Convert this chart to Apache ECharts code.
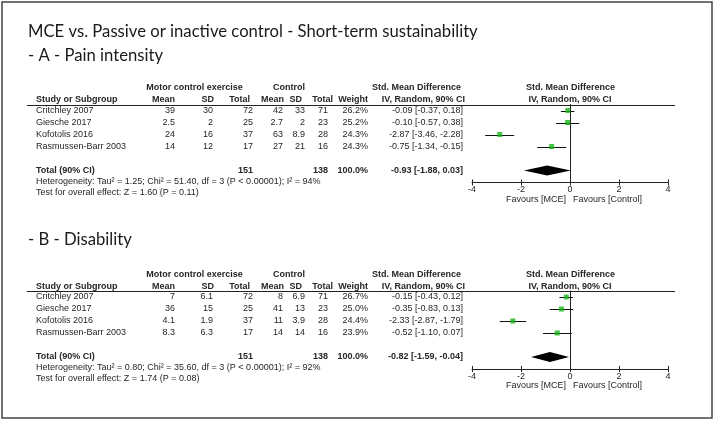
<!DOCTYPE html>
<html><head><meta charset="utf-8">
<script src="https://cdn.jsdelivr.net/npm/echarts@6/dist/echarts.min.js"></script>
<style>html,body{margin:0;padding:0;background:#fff}#c{width:716px;height:423px}</style>
</head><body><div id="c"></div>
<script>
// ---------------- DATA ----------------
const mainTitle = 'MCE vs. Passive or inactive control - Short-term sustainability';
const studies = ['Critchley 2007', 'Giesche 2017', 'Kofotolis 2016', 'Rasmussen-Barr 2003'];
const studyRows = [0, 1, 2, 3];
const totalRow = 5;
const xTicks = [-4, -2, 0, 2, 4];

// A - Pain intensity
const titleA = '- A - Pain intensity';
const mceMeanA = ['39', '2.5', '24', '14'];
const mceSdA = ['30', '2', '16', '12'];
const mceNA = [72, 25, 37, 17];
const ctlMeanA = ['42', '2.7', '63', '27'];
const ctlSdA = ['33', '2', '8.9', '21'];
const ctlNA = [71, 23, 28, 16];
const weightA = ['26.2%', '25.2%', '24.3%', '24.3%'];
const smdA = [-0.09, -0.10, -2.87, -0.75];
const loA = [-0.37, -0.57, -3.46, -1.34];
const hiA = [0.18, 0.38, -2.28, -0.15];
const totalA = { mceN: 151, ctlN: 138, weight: '100.0%', est: -0.93, lo: -1.88, hi: 0.03 };
const hetA = 'Heterogeneity: Tau\u00b2 = 1.25; Chi\u00b2 = 51.40, df = 3 (P < 0.00001); I\u00b2 = 94%';
const testA = 'Test for overall effect: Z = 1.60 (P = 0.11)';

// B - Disability
const titleB = '- B - Disability';
const mceMeanB = ['7', '36', '4.1', '8.3'];
const mceSdB = ['6.1', '15', '1.9', '6.3'];
const mceNB = [72, 25, 37, 17];
const ctlMeanB = ['8', '41', '11', '14'];
const ctlSdB = ['6.9', '13', '3.9', '14'];
const ctlNB = [71, 23, 28, 16];
const weightB = ['26.7%', '25.0%', '24.4%', '23.9%'];
const smdB = [-0.15, -0.35, -2.33, -0.52];
const loB = [-0.43, -0.83, -2.87, -1.10];
const hiB = [0.12, 0.13, -1.79, 0.07];
const totalB = { mceN: 151, ctlN: 138, weight: '100.0%', est: -0.82, lo: -1.59, hi: -0.04 };
const hetB = 'Heterogeneity: Tau\u00b2 = 0.80; Chi\u00b2 = 35.60, df = 3 (P < 0.00001); I\u00b2 = 92%';
const testB = 'Test for overall effect: Z = 1.74 (P = 0.08)';

// ---------------- LAYOUT ----------------
const FONT = '"Liberation Sans", Arial, sans-serif';
const TFONT = 'Lato, "Open Sans", sans-serif';
const TXT = '#262626';
const panels = [
  { title: titleA, titleY: 56, dy: 0, mceMean: mceMeanA, mceSd: mceSdA, mceN: mceNA, ctlMean: ctlMeanA, ctlSd: ctlSdA, ctlN: ctlNA,
    weight: weightA, smd: smdA, lo: loA, hi: hiA, total: totalA, het: hetA, test: testA, hetY: 182, testY: 193, grid: { top: 104.5 } },
  { title: titleB, titleY: 240, dy: 186.5, mceMean: mceMeanB, mceSd: mceSdB, mceN: mceNB, ctlMean: ctlMeanB, ctlSd: ctlSdB, ctlN: ctlNB,
    weight: weightB, smd: smdB, lo: loB, hi: hiB, total: totalB, het: hetB, test: testB, hetY: 367.5, testY: 378.5, grid: { top: 291 } }
];

function fitSize(text, family, weight, target) {
  const ctx = document.createElement('canvas').getContext('2d');
  ctx.font = weight + ' 100px ' + family;
  return 100 * target / ctx.measureText(text).width;
}
const titleSize = fitSize(mainTitle, TFONT, 'normal', 450);

const fmt = (v) => v.toFixed(2);
const ciText = (e, l, h) => fmt(e) + ' [' + fmt(l) + ', ' + fmt(h) + ']';

const chart = echarts.init(document.getElementById('c'), null, { renderer: 'canvas', width: 716, height: 423 });

const grid = panels.map(p => ({ left: 472, width: 196, top: p.grid.top, height: 78 }));
const xAxis = [];
panels.forEach((p, i) => {
  xAxis.push({ gridIndex: i, type: 'value', min: -4, max: 4, interval: 2, position: 'bottom',
    axisLine: { show: true, onZero: false, lineStyle: { color: '#222', width: 1 } },
    axisTick: { show: true, inside: false, length: 3, lineStyle: { color: '#222' } },
    axisLabel: { show: true, margin: 3, fontSize: 9, fontFamily: FONT, color: TXT,
      formatter: v => xTicks.indexOf(v) >= 0 ? String(v) : '' },
    splitLine: { show: false } });
  xAxis.push({ gridIndex: i, type: 'value', min: -4, max: 4, interval: 2, position: 'bottom',
    axisLine: { show: false, onZero: false },
    axisTick: { show: true, inside: true, length: 3, lineStyle: { color: '#222' } },
    axisLabel: { show: false }, splitLine: { show: false } });
});
const yAxis = panels.map((p, i) => ({ gridIndex: i, type: 'value', min: -0.5, max: 6, inverse: true,
  axisLine: { show: true, onZero: true, onZeroAxisIndex: i * 2, lineStyle: { color: '#222' } },
  axisTick: { show: false }, axisLabel: { show: false }, splitLine: { show: false } }));

const series = [];
panels.forEach((p, i) => {
  series.push({ type: 'custom', xAxisIndex: i * 2, yAxisIndex: i, silent: true, z: 3,
    encode: { x: [0, 1], y: 2 },
    data: studyRows.map((r, k) => [p.lo[k], p.hi[k], r]),
    renderItem: (params, api) => {
      const a = api.coord([api.value(0), api.value(2)]);
      const b = api.coord([api.value(1), api.value(2)]);
      const y = Math.round(a[1]) + 0.5;
      return { type: 'line', shape: { x1: a[0], y1: y, x2: b[0], y2: y }, style: { stroke: '#111', lineWidth: 1 } };
    } });
  series.push({ type: 'scatter', xAxisIndex: i * 2, yAxisIndex: i, silent: true, z: 4,
    symbol: 'rect', symbolSize: 5, itemStyle: { color: '#19b419' },
    data: studyRows.map((r, k) => [p.smd[k], r]) });
  series.push({ type: 'custom', xAxisIndex: i * 2, yAxisIndex: i, silent: true, z: 4,
    encode: { x: [0, 1, 3], y: 2 },
    data: [[p.total.lo, p.total.hi, totalRow, p.total.est]],
    renderItem: (params, api) => {
      const l = api.coord([api.value(0), api.value(2)]);
      const r = api.coord([api.value(1), api.value(2)]);
      const c = api.coord([api.value(3), api.value(2)]);
      return { type: 'polygon', shape: { points: [[l[0], c[1]], [c[0], c[1] - 5], [r[0], c[1]], [c[0], c[1] + 5]] },
        style: { fill: '#000' } };
    } });
});

chart.setOption({ backgroundColor: '#fff', animation: false, grid, xAxis, yAxis, series });

// ---------------- TEXT TABLE ----------------
const g = [];
function txt(text, x, y, align, opts) {
  opts = opts || {};
  g.push({ type: 'text', x: x, y: y, silent: true, z: 10,
    style: { text: text, textAlign: align || 'left', textVerticalAlign: 'middle',
      font: (opts.bold ? 'bold ' : '') + (opts.size || 9) + 'px ' + (opts.family || FONT),
      fill: opts.color || TXT } });
}
// frame
g.push({ type: 'rect', shape: { x: 2, y: 2, width: 710, height: 416 }, style: { fill: 'none', stroke: '#444', lineWidth: 1.5 }, silent: true });
txt(mainTitle, 28, 32, 'left', { size: titleSize, family: TFONT, color: '#1a1a1a' });

panels.forEach((p, i) => {
  const rowY = r => chart.convertToPixel({ xAxisIndex: i * 2, yAxisIndex: i }, [0, r])[1];
  const d = p.dy;
  txt(p.title, 28, p.titleY, 'left', { size: titleSize, family: TFONT, color: '#1a1a1a' });
  // header row 1
  txt('Motor control exercise', 194.5, 88 + d, 'center', { bold: true });
  txt('Control', 289, 88 + d, 'center', { bold: true });
  txt('Std. Mean Difference', 461, 88 + d, 'right', { bold: true });
  txt('Std. Mean Difference', 570.5, 88 + d, 'center', { bold: true });
  // header row 2
  const h2 = 100 + d;
  txt('Study or Subgroup', 36, h2, 'left', { bold: true });
  txt('Mean', 175, h2, 'right', { bold: true });
  txt('SD', 214, h2, 'right', { bold: true });
  txt('Total', 250, h2, 'right', { bold: true });
  txt('Mean', 284, h2, 'right', { bold: true });
  txt('SD', 302, h2, 'right', { bold: true });
  txt('Total', 333, h2, 'right', { bold: true });
  txt('Weight', 368, h2, 'right', { bold: true });
  txt('IV, Random, 90% CI', 465, h2, 'right', { bold: true });
  txt('IV, Random, 90% CI', 570, h2, 'center', { bold: true });
  // underline
  const ly = Math.round(p.grid.top) + 0.5;
  g.push({ type: 'line', shape: { x1: 27, y1: ly, x2: 675, y2: ly }, style: { stroke: '#222', lineWidth: 1 }, silent: true });
  // study rows
  studyRows.forEach((r, k) => {
    const y = rowY(r);
    txt(studies[k], 36, y, 'left');
    txt(p.mceMean[k], 175, y, 'right');
    txt(p.mceSd[k], 213, y, 'right');
    txt(String(p.mceN[k]), 253, y, 'right');
    txt(p.ctlMean[k], 283, y, 'right');
    txt(p.ctlSd[k], 305, y, 'right');
    txt(String(p.ctlN[k]), 328, y, 'right');
    txt(p.weight[k], 368, y, 'right');
    txt(ciText(p.smd[k], p.lo[k], p.hi[k]), 463, y, 'right');
  });
  const ty = rowY(totalRow);
  txt('Total (90% CI)', 36, ty, 'left', { bold: true });
  txt(String(p.total.mceN), 253, ty, 'right', { bold: true });
  txt(String(p.total.ctlN), 328, ty, 'right', { bold: true });
  txt(p.total.weight, 368, ty, 'right', { bold: true });
  txt(ciText(p.total.est, p.total.lo, p.total.hi), 463, ty, 'right', { bold: true });
  txt(p.het, 36, p.hetY, 'left');
  txt(p.test, 36, p.testY, 'left');
  const fy = 199.5 + d;
  txt('Favours [MCE]', 566, fy, 'right');
  txt('Favours [Control]', 573, fy, 'left');
});

chart.setOption({ graphic: g });
</script>
</body></html>
